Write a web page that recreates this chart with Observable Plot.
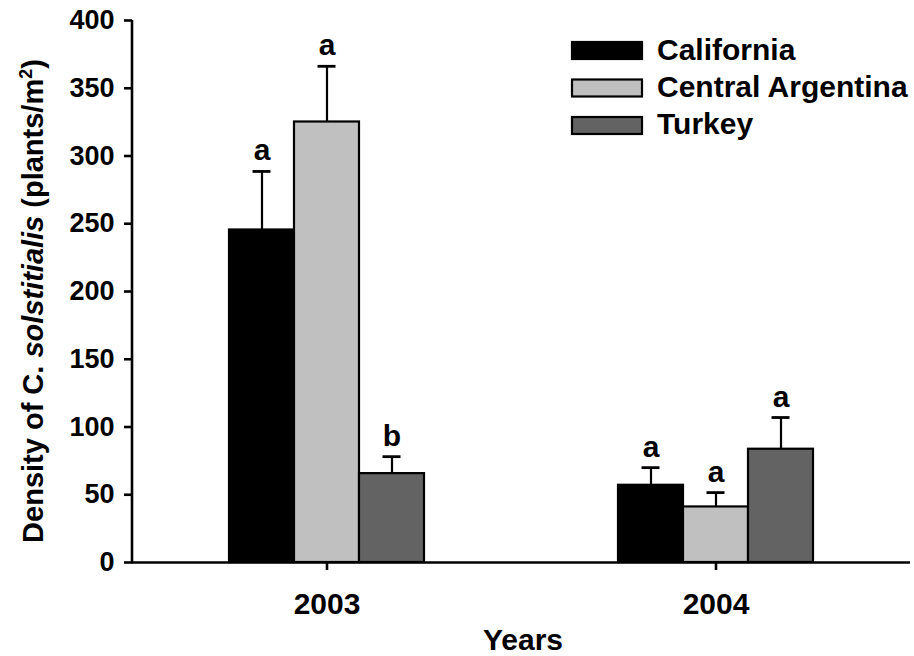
<!DOCTYPE html>
<html>
<head>
<meta charset="utf-8">
<script src="https://cdn.jsdelivr.net/npm/d3@7"></script>
<script src="https://cdn.jsdelivr.net/npm/@observablehq/plot@0.6"></script>
<style>
  html, body { margin: 0; padding: 0; background: #fff; }
  #chart { width: 914px; height: 656px; }
</style>
</head>
<body>
<div id="chart"></div>
<script>
const years = ["2003", "2004"];
const regions = ["California", "Central Argentina", "Turkey"];
const colors = ["#000000", "#c0c0c0", "#636363"];
const means2003 = [245.4, 325.1, 65.6];
const means2004 = [57.0, 41.0, 83.6];
const se2003 = [43.2, 41.1, 12.5];
const se2004 = [13.0, 10.6, 23.4];
const letters2003 = ["a", "a", "b"];
const letters2004 = ["a", "a", "a"];
const yTicks = [0, 50, 100, 150, 200, 250, 300, 350, 400];

const rows = [];
regions.forEach((r, i) => {
  rows.push({year: years[0], region: r, mean: means2003[i], se: se2003[i], letter: letters2003[i]});
  rows.push({year: years[1], region: r, mean: means2004[i], se: se2004[i], letter: letters2004[i]});
});
const errTop = d => d.mean + d.se;

const font = "'Liberation Sans', Arial, Helvetica, sans-serif";

const chart = Plot.plot({
  width: 914,
  height: 656,
  marginTop: 20,
  marginBottom: 94,
  marginLeft: 132,
  marginRight: 4,
  style: {fontFamily: font, fontWeight: "bold", fontSize: "27px", color: "#000", background: "#fff"},
  fx: {domain: years, padding: 0, axis: null, label: null},
  x: {domain: regions, paddingInner: 0, paddingOuter: 1.49, axis: null},
  y: {domain: [0, 400], axis: null},
  color: {domain: regions, range: colors},
  marks: [
    Plot.ruleX(rows, {fx: "year", x: "region", y1: "mean", y2: errTop, stroke: "#000", strokeWidth: 2.2}),
    Plot.tickY(rows, {fx: "year", x: "region", y: errTop, inset: 23.5, stroke: "#000", strokeWidth: 2.8}),
    Plot.barY(rows, {fx: "year", x: "region", y: "mean", fill: "region", stroke: "#000", strokeWidth: 2.2, inset: 0}),
    Plot.text(rows, {fx: "year", x: "region", y: errTop, text: "letter", dy: -11, lineAnchor: "bottom", fontSize: 30, fontWeight: "bold", fill: "#000"}),
    Plot.ruleY([0], {stroke: "#000", strokeWidth: 2.6}),
    Plot.axisY({ticks: yTicks, tickSize: 8, tickPadding: 10, strokeWidth: 2.6, fontSize: 27, fontWeight: "bold", label: null, tickFormat: d => String(d)}),
    Plot.axisFx({anchor: "bottom", tickSize: 8, tickPadding: 22, strokeWidth: 2.6, fontSize: 30, fontWeight: "bold", label: null})
  ]
});

document.getElementById("chart").appendChild(chart);

const svg = d3.select(chart);
const y = chart.scale("y");
const y0 = y.apply(0), yMax = y.apply(400);
const left = 132, right = 914 - 4;

// y axis line
svg.append("line")
  .attr("x1", left).attr("x2", left)
  .attr("y1", y0 + 1.3).attr("y2", yMax)
  .attr("stroke", "#000").attr("stroke-width", 2.6);

// y axis label
const yl = svg.append("text")
  .attr("transform", `translate(43, ${(y0 + yMax) / 2 + 10}) rotate(-90)`)
  .attr("text-anchor", "middle")
  .attr("font-family", font)
  .attr("font-weight", "bold")
  .attr("font-size", 29)
  .attr("fill", "#000");
yl.append("tspan").text("Density of C. ");
yl.append("tspan").attr("font-style", "italic").text("solstitialis");
yl.append("tspan").text(" (plants/m");
yl.append("tspan").attr("font-size", 18).attr("dy", -11).text("2");
yl.append("tspan").attr("dy", 11).text(")");

// x axis label
svg.append("text")
  .attr("x", (left + right) / 2 + 2)
  .attr("y", 650)
  .attr("text-anchor", "middle")
  .attr("font-family", font)
  .attr("font-weight", "bold")
  .attr("font-size", 30)
  .attr("fill", "#000")
  .text("Years");

// legend
const lg = svg.append("g")
  .attr("font-family", font).attr("font-weight", "bold").attr("font-size", 30)
  .attr("text-anchor", "start");
regions.forEach((r, i) => {
  lg.append("rect")
    .attr("x", 572).attr("y", 42 + 37.5 * i)
    .attr("width", 70).attr("height", 17)
    .attr("fill", colors[i]).attr("stroke", "#000").attr("stroke-width", 2.2);
  lg.append("text")
    .attr("x", 657).attr("y", 60 + 37 * i)
    .attr("text-anchor", "start")
    .attr("fill", "#000")
    .text(r);
});
</script>
</body>
</html>
